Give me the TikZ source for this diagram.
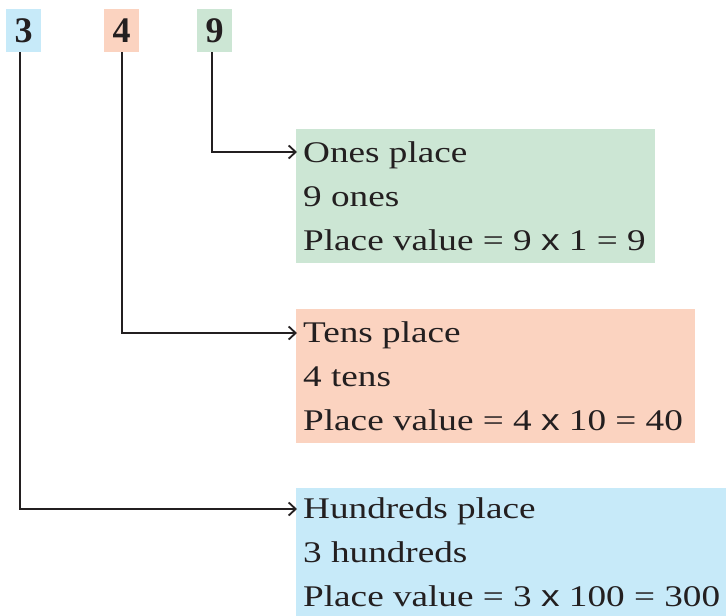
\documentclass[tikz,border=0pt]{standalone}
\usepackage{fontspec}
\setmainfont{Liberation Serif}
\newfontfamily\bodyfont[FakeStretch=1.24]{Liberation Serif}
\newfontfamily\xsans[FakeStretch=1.24]{Liberation Sans}
\usetikzlibrary{arrows.meta}
\definecolor{gbox}{RGB}{204,230,212}
\definecolor{pbox}{RGB}{251,211,192}
\definecolor{bbox}{RGB}{199,234,249}
\definecolor{ink}{RGB}{35,31,32}
\newcommand{\tms}{{\xsans x}}
\tikzset{
  digitbox/.style={minimum width=35pt, minimum height=43pt, inner sep=0pt, font=\fontsize{36}{36}\selectfont\bfseries, text=ink},
  panel/.style={anchor=north west, inner sep=0pt},
  infotext/.style={anchor=west, inner xsep=7pt, inner ysep=0pt, align=left, text=ink, font=\bodyfont\fontsize{30}{44}\selectfont},
  conn/.style={draw=ink, line width=2pt, -{Straight Barb[length=7pt,width=13pt,line width=1.8pt]}},
}
\begin{document}
\begin{tikzpicture}[x=1pt,y=-1pt]
\useasboundingbox (0,0) rectangle (726,616);
\node[digitbox, fill=bbox] (d3) at (23.5,30.5) {3};
\node[digitbox, fill=pbox] (d4) at (121.5,30.5) {4};
\node[digitbox, fill=gbox] (d9) at (214.5,30.5) {9};
\node[panel, fill=gbox, minimum width=359pt, minimum height=134pt] (ones) at (296,129) {};
\node[panel, fill=pbox, minimum width=399pt, minimum height=134pt] (tens) at (296,309) {};
\node[panel, fill=bbox, minimum width=430pt, minimum height=130pt] (hund) at (296,488) {};
\node[infotext] (onest) at (ones.west) {Ones place\\9 ones\\Place value = 9 \tms{} 1 = 9};
\node[infotext] (tenst) at (tens.west) {Tens place\\4 tens\\Place value = 4 \tms{} 10 = 40};
\node[infotext] (hundt) at ([yshift=1pt]hund.west) {Hundreds place\\3 hundreds\\Place value = 3 \tms{} 100 = 300};
\coordinate (a9) at (297,152);
\coordinate (a4) at (297,333);
\coordinate (a3) at (297,509);
\draw[conn] ([xshift=-2.5pt]d9.south) |- (a9);
\draw[conn] ([xshift=0.5pt]d4.south) |- (a4);
\draw[conn] ([xshift=-3.5pt]d3.south) |- (a3);
\end{tikzpicture}
\end{document}
